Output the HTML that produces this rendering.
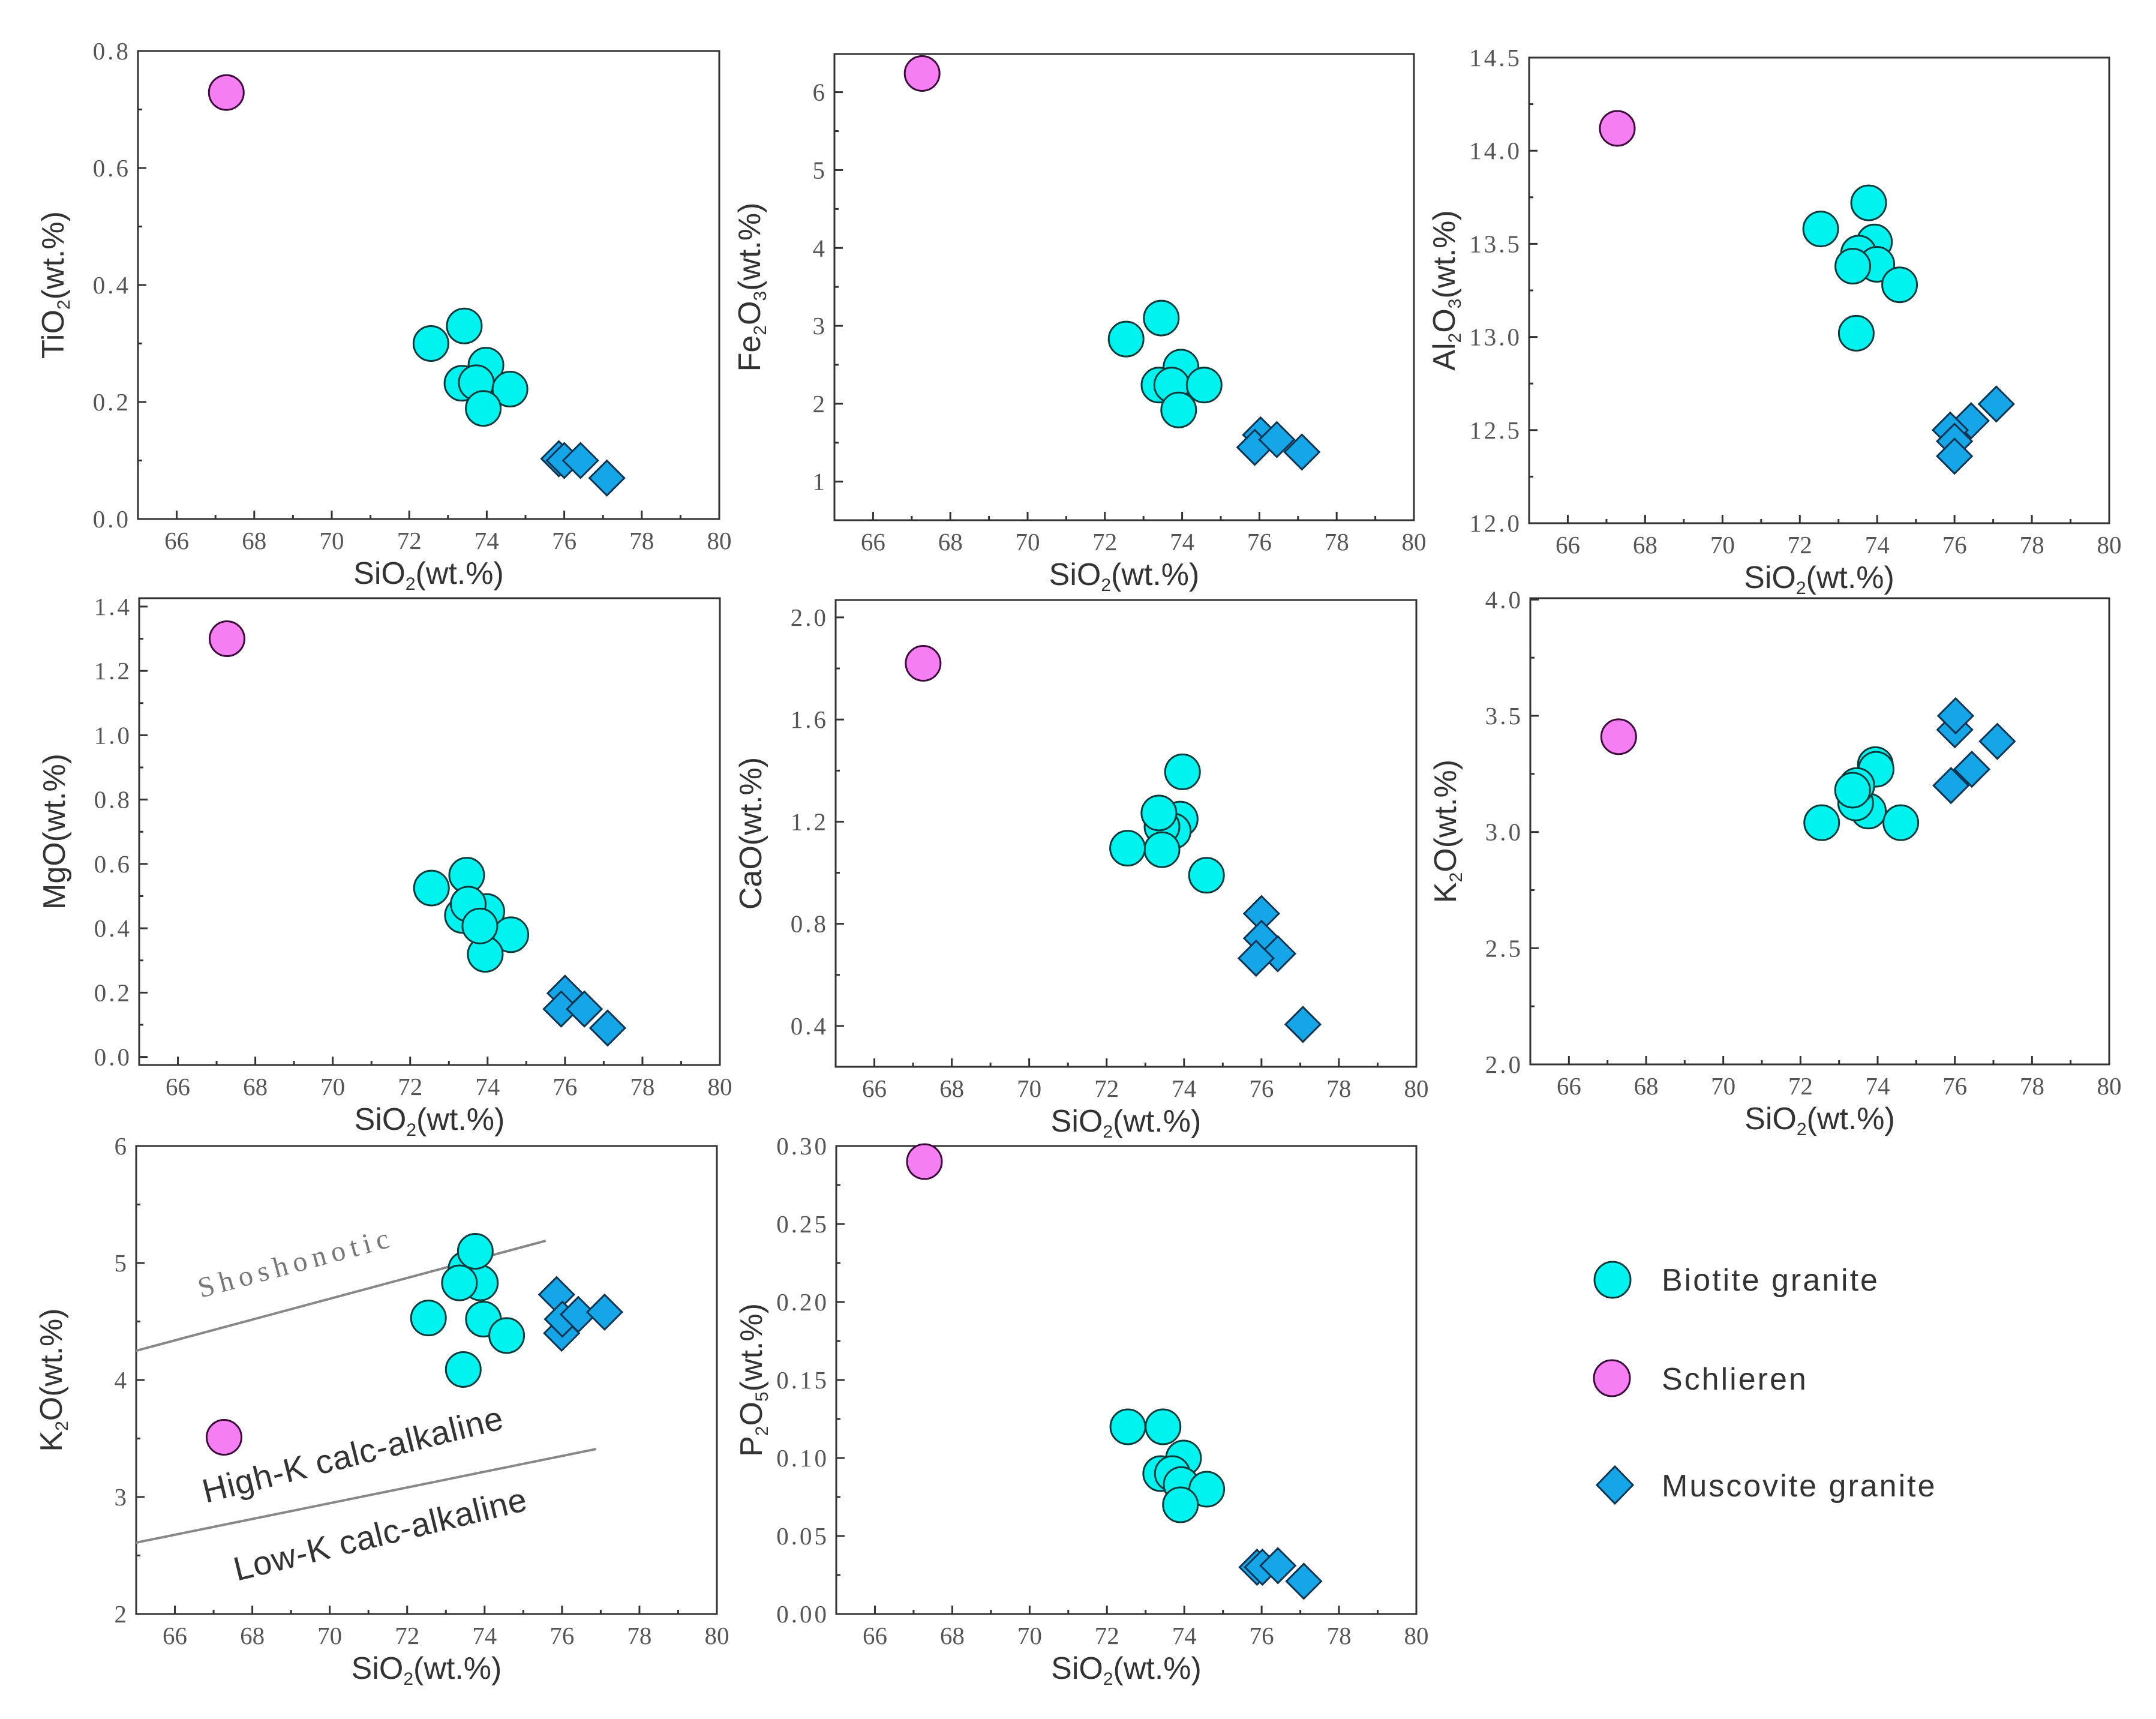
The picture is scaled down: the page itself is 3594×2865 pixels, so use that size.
<!DOCTYPE html>
<html><head><meta charset="utf-8"><style>
html,body{margin:0;padding:0;background:#fff;}
svg{display:block;}
</style></head><body>
<svg id="fig" width="3594" height="2865" viewBox="0 0 3594 2865" xmlns="http://www.w3.org/2000/svg">
<rect width="3594" height="2865" fill="#fff"/>
</svg>
<script>
// ---- data (SiO2, oxide) pairs ----
const xTicks = [66,68,70,72,74,76,78,80];
const tio2Bio = [[72.56,0.30],[73.42,0.33],[73.98,0.263],[73.36,0.232],[73.73,0.233],[74.6,0.222],[73.91,0.189]];
const tio2Sch = [[67.28,0.729]];
const tio2Mus = [[75.86,0.103],[76.0,0.10],[76.42,0.10],[77.1,0.07]];
const tio2Ticks = [0.0,0.2,0.4,0.6,0.8];
const tio2Labels = ["0.0","0.2","0.4","0.6","0.8"];

const fe2o3Bio = [[72.55,2.83],[73.46,3.10],[73.97,2.47],[73.4,2.24],[73.73,2.24],[74.57,2.24],[73.91,1.92]];
const fe2o3Sch = [[67.27,6.24]];
const fe2o3Mus = [[76.03,1.60],[75.88,1.44],[76.45,1.54],[77.1,1.38]];
const fe2o3Ticks = [1,2,3,4,5,6];
const fe2o3Labels = ["1","2","3","4","5","6"];

const al2o3Bio = [[72.54,13.58],[73.78,13.72],[73.93,13.51],[73.52,13.45],[73.99,13.39],[73.37,13.38],[74.58,13.28],[73.46,13.02]];
const al2o3Sch = [[67.28,14.12]];
const al2o3Mus = [[77.08,12.64],[76.43,12.55],[75.89,12.50],[76.0,12.44],[76.0,12.36]];
const al2o3Ticks = [12.0,12.5,13.0,13.5,14.0,14.5];
const al2o3Labels = ["12.0","12.5","13.0","13.5","14.0","14.5"];

const mgoBio = [[72.55,0.525],[73.46,0.565],[73.98,0.452],[73.35,0.44],[73.5,0.475],[74.6,0.38],[73.94,0.319],[73.8,0.407]];
const mgoSch = [[67.27,1.30]];
const mgoMus = [[76.0,0.198],[75.9,0.149],[76.5,0.149],[77.1,0.09]];
const mgoTicks = [0.0,0.2,0.4,0.6,0.8,1.0,1.2,1.4];
const mgoLabels = ["0.0","0.2","0.4","0.6","0.8","1.0","1.2","1.4"];

const caoBio = [[73.96,1.395],[73.9,1.21],[73.72,1.163],[73.43,1.18],[73.35,1.234],[73.43,1.09],[72.54,1.096],[74.58,0.99]];
const caoSch = [[67.26,1.82]];
const caoMus = [[76.0,0.84],[76.0,0.743],[76.42,0.683],[75.86,0.665],[77.07,0.406]];
const caoTicks = [0.4,0.8,1.2,1.6,2.0];
const caoLabels = ["0.4","0.8","1.2","1.6","2.0"];

const k2oBio = [[72.55,3.04],[73.94,3.29],[73.96,3.27],[73.76,3.09],[73.43,3.125],[73.46,3.20],[73.35,3.18],[74.6,3.04]];
const k2oSch = [[67.29,3.41]];
const k2oMus = [[76.0,3.44],[76.02,3.5],[77.1,3.39],[76.44,3.27],[75.9,3.20]];
const k2oTicks = [2.0,2.5,3.0,3.5,4.0];
const k2oLabels = ["2.0","2.5","3.0","3.5","4.0"];

const k2oSerBio = [[72.55,4.53],[73.97,4.52],[74.57,4.38],[73.45,4.09],[73.52,4.95],[73.89,4.83],[73.76,5.10],[73.35,4.83]];
const k2oSerSch = [[67.27,3.51]];
const k2oSerMus = [[75.86,4.73],[75.99,4.40],[76.01,4.52],[76.42,4.56],[77.1,4.58]];
const k2oSerTicks = [2,3,4,5,6];
const k2oSerLabels = ["2","3","4","5","6"];
const shoshLine = [[65.0,4.25],[75.58,5.19]];
const lowKLine = [[65.0,2.61],[76.88,3.41]];

const p2o5Bio = [[72.54,0.12],[73.45,0.12],[73.98,0.10],[73.39,0.09],[73.69,0.09],[73.92,0.083],[74.58,0.08],[73.9,0.07]];
const p2o5Sch = [[67.28,0.290]];
const p2o5Mus = [[75.88,0.03],[76.02,0.03],[76.42,0.031],[77.09,0.021]];
const p2o5Ticks = [0.00,0.05,0.10,0.15,0.20,0.25,0.30];
const p2o5Labels = ["0.00","0.05","0.10","0.15","0.20","0.25","0.30"];

const NS = "http://www.w3.org/2000/svg";
const svg = document.getElementById('fig');
function mk(tag, attrs, parent){
  const e = document.createElementNS(NS, tag);
  for (const k in attrs) e.setAttribute(k, attrs[k]);
  (parent||svg).appendChild(e);
  return e;
}
const BIO_FILL="#00f3ee", BIO_STROKE="#0c3b3b";
const SCH_FILL="#f57ef2", SCH_STROKE="#3d0b3b";
const MUS_FILL="#15a6e8", MUS_STROKE="#0b3452";

function panel(cfg){
  const g = mk('g', {});
  
  
  const L=cfg.l, R=cfg.r, T=cfg.t, B=cfg.b;
  const sx = v => L + (v-65)/(80-65)*(R-L);
  const sy = v => B - (v-cfg.ymin)/(cfg.ymax-cfg.ymin)*(B-T);
  const fr = mk('rect', {x:L,y:T,width:R-L,height:B-T,fill:'none',stroke:'#333','stroke-width':3}, g);
  
  
  const xa = mk('g', {}, g);
  
  
  for (let v=66; v<80; v++){
    const major = (v%2===0);
    mk('line', {x1:sx(v),x2:sx(v),y1:B,y2:B-(major?14:7),stroke:'#333','stroke-width':3}, xa);
  }
  xTicks.forEach(v=>{
    const t = mk('text', {x:sx(v), y:B+50, 'text-anchor':'middle', 'font-family':'"Liberation Serif", serif', 'font-size':41, fill:'#555'}, xa);
    t.textContent = v;
  });
  const ya = mk('g', {}, g);
  
  
  for (let i=0;i<cfg.ticks.length;i++){
    const v=cfg.ticks[i];
    mk('line', {x1:L,x2:L+14,y1:sy(v),y2:sy(v),stroke:'#333','stroke-width':3}, ya);
    if (i<cfg.ticks.length-1){
      const m=(v+cfg.ticks[i+1])/2;
      mk('line', {x1:L,x2:L+7,y1:sy(m),y2:sy(m),stroke:'#333','stroke-width':3}, ya);
    }
    const t = mk('text', {x:L-12, y:sy(v)+14, 'text-anchor':'end', 'font-family':'"Liberation Serif", serif', 'font-size':41, fill:'#555', 'letter-spacing':4}, ya);
    t.textContent = cfg.labels[i];
  }
  const xt = mk('text', {x:(L+R)/2, y:B+108, 'text-anchor':'middle','font-family':'"Liberation Sans", sans-serif','font-size':52, fill:'#333'}, g);
  
  
  xt.innerHTML = 'SiO<tspan font-size="30" dy="10">2</tspan><tspan dy="-10">(wt.%)</tspan>';
  const cy=(T+B)/2, cx=L-124;
  const yt = mk('text', {x:cx, y:cy, transform:`rotate(-90 ${cx} ${cy})`, 'text-anchor':'middle','font-family':'"Liberation Sans", sans-serif','font-size':52, fill:'#333'}, g);
  
  
  yt.innerHTML = cfg.ytitle;
  if (cfg.extra) cfg.extra(g, sx, sy);
  const drawC = (arr, fill, stroke, nm) => arr.forEach(p=>{
    const c = mk('ellipse', {cx:sx(p[0]), cy:sy(p[1]), rx:29, ry:29, fill:fill, stroke:stroke, 'stroke-width':3}, g);
    
    
  });
  drawC(cfg.sch, SCH_FILL, SCH_STROKE, 'schlieren');
  drawC(cfg.bio, BIO_FILL, BIO_STROKE, 'biotite');
  cfg.mus.forEach(p=>{
    const x=sx(p[0]), y=sy(p[1]), d=29;
    const dm = mk('polygon', {points:`${x},${y-d} ${x+d},${y} ${x},${y+d} ${x-d},${y}`, fill:MUS_FILL, stroke:MUS_STROKE, 'stroke-width':3}, g);
    
    
  });
}
function sub(n){return `<tspan font-size="30" dy="10">${n}</tspan><tspan dy="-10">`;}

panel({name:'tio2', l:230,r:1199,t:85,b:865, ymin:0,ymax:0.8, ticks:tio2Ticks, labels:tio2Labels,
  ytitle:'TiO'+sub(2)+'(wt.%)</tspan>', bio:tio2Bio, sch:tio2Sch, mus:tio2Mus});
panel({name:'fe2o3', l:1391,r:2357,t:90,b:867, ymin:0.505,ymax:6.49, ticks:fe2o3Ticks, labels:fe2o3Labels,
  ytitle:'Fe'+sub(2)+'O'+sub(3)+'(wt.%)</tspan></tspan>', bio:fe2o3Bio, sch:fe2o3Sch, mus:fe2o3Mus});
panel({name:'al2o3', l:2549,r:3516,t:96,b:872, ymin:12.0,ymax:14.5, ticks:al2o3Ticks, labels:al2o3Labels,
  ytitle:'Al'+sub(2)+'O'+sub(3)+'(wt.%)</tspan></tspan>', bio:al2o3Bio, sch:al2o3Sch, mus:al2o3Mus});
panel({name:'mgo', l:232,r:1200,t:997,b:1775, ymin:-0.025,ymax:1.426, ticks:mgoTicks, labels:mgoLabels,
  ytitle:'MgO(wt.%)', bio:mgoBio, sch:mgoSch, mus:mgoMus});
panel({name:'cao', l:1393,r:2361,t:1000,b:1778, ymin:0.24,ymax:2.068, ticks:caoTicks, labels:caoLabels,
  ytitle:'CaO(wt.%)', bio:caoBio, sch:caoSch, mus:caoMus});
panel({name:'k2o', l:2551,r:3516,t:997,b:1774, ymin:2.0,ymax:4.006, ticks:k2oTicks, labels:k2oLabels,
  ytitle:'K'+sub(2)+'O(wt.%)</tspan>', bio:k2oBio, sch:k2oSch, mus:k2oMus});
panel({name:'k2o-series', l:227,r:1195,t:1910,b:2690, ymin:2,ymax:6, ticks:k2oSerTicks, labels:k2oSerLabels,
  ytitle:'K'+sub(2)+'O(wt.%)</tspan>', bio:k2oSerBio, sch:k2oSerSch, mus:k2oSerMus,
  extra:(g,sx,sy)=>{
    const l1 = mk('line',{x1:sx(shoshLine[0][0]),y1:sy(shoshLine[0][1]),x2:sx(shoshLine[1][0]),y2:sy(shoshLine[1][1]),stroke:'#888','stroke-width':4},g);
    
    
    const l2 = mk('line',{x1:sx(lowKLine[0][0]),y1:sy(lowKLine[0][1]),x2:sx(lowKLine[1][0]),y2:sy(lowKLine[1][1]),stroke:'#888','stroke-width':4},g);
    
    
    const t1 = mk('text',{x:335,y:2163,transform:'rotate(-15 335 2163)','font-family':'"Liberation Serif", serif','font-size':48,'letter-spacing':9,fill:'#777'},g);
    
    
    t1.textContent='Shoshonotic';
    const t2 = mk('text',{x:343,y:2505,transform:'rotate(-14 343 2505)','font-family':'"Liberation Sans", sans-serif','font-size':56,'letter-spacing':1,fill:'#333'},g);
    
    
    t2.textContent='High-K calc-alkaline';
    const t3 = mk('text',{x:395,y:2635,transform:'rotate(-13.7 395 2635)','font-family':'"Liberation Sans", sans-serif','font-size':56,'letter-spacing':1,fill:'#333'},g);
    
    
    t3.textContent='Low-K calc-alkaline';
  }});
panel({name:'p2o5', l:1394,r:2361,t:1910,b:2690, ymin:0,ymax:0.30, ticks:p2o5Ticks, labels:p2o5Labels,
  ytitle:'P'+sub(2)+'O'+sub(5)+'(wt.%)</tspan></tspan>', bio:p2o5Bio, sch:p2o5Sch, mus:p2o5Mus});

const lg = mk('g',{});


const e1 = mk('ellipse',{cx:2688,cy:2133,rx:30,ry:30,fill:BIO_FILL,stroke:BIO_STROKE,'stroke-width':3},lg);


const e2 = mk('ellipse',{cx:2687,cy:2297,rx:30,ry:30,fill:SCH_FILL,stroke:SCH_STROKE,'stroke-width':3},lg);


const e3 = mk('polygon',{points:'2692,2444 2722,2475 2692,2506 2662,2475',fill:MUS_FILL,stroke:MUS_STROKE,'stroke-width':3},lg);


[['Biotite granite',2151,'legend-biotite-label'],['Schlieren',2316,'legend-schlieren-label'],['Muscovite  granite',2494,'legend-muscovite-label']].forEach(a=>{
  const t = mk('text',{x:2770,y:a[1],'font-family':'"Liberation Sans", sans-serif','font-size':52,fill:'#333','letter-spacing':3,'xml:space':'preserve'},lg);
  
  
  t.textContent=a[0];
});
</script>
</body></html>
